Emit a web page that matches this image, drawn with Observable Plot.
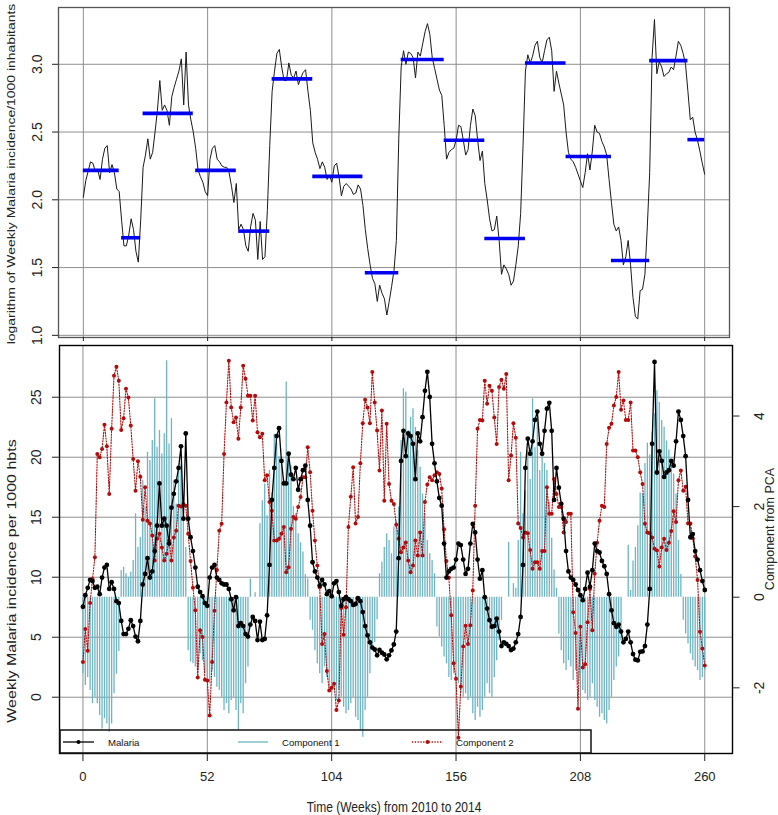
<!DOCTYPE html>
<html><head><meta charset="utf-8">
<script src="https://cdn.jsdelivr.net/npm/d3@7"></script>
<script src="https://cdn.jsdelivr.net/npm/@observablehq/plot@0.6"></script>
<style>
body{margin:0;background:#fff;}
#wrap{position:relative;width:778px;height:815px;overflow:hidden;font-family:"Liberation Sans",Arial,sans-serif;color:#222;background:#fff;}
.lab{position:absolute;white-space:nowrap;line-height:1;}
</style></head><body>
<div id="wrap">
  <div id="top" style="position:absolute;left:0;top:0;width:778px;height:342px"></div>
  <div id="bot" style="position:absolute;left:0;top:342px"></div>
  <div class="lab" style="left:10.5px;top:173.5px;font-size:10.9px;transform:translate(-50%,-50%) rotate(-90deg) scaleX(1.28)">logarithm of Weekly Malaria incidence/1000 inhabitants</div>
  <div class="lab" style="left:12px;top:581px;font-size:12.5px;transform:translate(-50%,-50%) rotate(-90deg) scaleX(1.28)">Weekly Malaria incidence per 1000 hbts</div>
  <div class="lab" style="left:770px;top:529px;font-size:12.5px;transform:translate(-50%,-50%) rotate(-90deg)">Component from PCA</div>
  <div class="lab" style="left:394px;top:807px;font-size:12px;transform:translate(-50%,-50%) scaleY(1.15)">Time (Weeks) from 2010 to 2014</div>
  <svg id="legend" width="778" height="815" style="position:absolute;left:0;top:0;pointer-events:none"></svg>
</div>
<script>
// ---------- data ----------
const weekTicks = [0, 52, 104, 156, 208, 260];
const logTicks = [1.0, 1.5, 2.0, 2.5, 3.0];
const incidenceTicks = [0, 5, 10, 15, 20, 25];
const componentTicks = [-2, 0, 2, 4];

// logarithm of weekly malaria incidence (weeks 0..260)
const logIncidence = [
  2.02, 2.14, 2.21, 2.28, 2.27, 2.21, 2.22, 2.15, 2.30, 2.38,
  2.40, 2.20, 2.26, 2.20, 2.08, 2.06, 1.85, 1.66, 1.66, 1.74,
  1.86, 1.78, 1.62, 1.54, 1.85, 2.24, 2.33, 2.45, 2.30, 2.35,
  2.50, 2.66, 2.88, 2.66, 2.70, 2.66, 2.55, 2.76, 2.83, 2.89,
  2.95, 3.04, 2.70, 3.09, 2.70, 2.59, 2.50, 2.38, 2.22, 2.17,
  2.13, 2.06, 2.03, 2.30, 2.38, 2.40, 2.30, 2.28, 2.25, 2.24,
  2.24, 2.20, 2.10, 1.98, 2.12, 1.78, 1.82, 1.78, 1.66, 1.62,
  1.80, 1.90, 1.85, 1.56, 1.84, 1.56, 1.58, 1.92, 2.40, 2.80,
  2.95, 3.08, 3.11, 2.98, 2.88, 2.88, 3.01, 2.92, 2.90, 2.95,
  2.85, 2.90, 2.94, 2.96, 2.80, 2.66, 2.42, 2.35, 2.30, 2.23,
  2.28, 2.24, 2.15, 2.18, 2.13, 2.25, 2.27, 2.17, 2.03, 2.10,
  2.12, 2.10, 2.08, 2.04, 2.05, 2.11, 2.08, 1.96, 1.78, 1.64,
  1.52, 1.42, 1.38, 1.25, 1.37, 1.31, 1.27, 1.15, 1.25, 1.36,
  1.48, 1.70, 2.45, 2.98, 3.10, 3.00, 3.09, 3.08, 3.05, 2.90,
  3.09, 3.06, 3.15, 3.24, 3.30, 3.22, 3.05, 2.97, 2.89, 2.81,
  2.77, 2.55, 2.30, 2.35, 2.37, 2.38, 2.44, 2.55, 2.54, 2.44,
  2.33, 2.37, 2.55, 2.67, 2.62, 2.44, 2.29, 2.36, 2.12, 2.00,
  1.86, 1.77, 1.78, 1.88, 1.70, 1.45, 1.52, 1.49, 1.45, 1.37,
  1.40, 1.52, 1.66, 1.90, 2.40, 2.95, 3.07, 3.01, 3.06, 3.14,
  3.17, 3.05, 3.01, 3.10, 3.18, 3.20, 3.10, 2.80, 2.95, 2.86,
  2.78, 2.70, 2.50, 2.35, 2.30, 2.28, 2.24, 2.19, 2.14, 2.09,
  2.20, 2.34, 2.22, 2.36, 2.55, 2.50, 2.49, 2.43, 2.39, 2.33,
  2.15, 1.98, 1.82, 1.77, 1.80, 1.70, 1.52, 1.58, 1.70, 1.52,
  1.28, 1.14, 1.12, 1.33, 1.34, 1.45, 1.80, 2.20, 3.05, 3.33,
  2.93, 3.02, 2.98, 2.91, 2.93, 2.94, 2.98, 2.96, 3.06, 3.17,
  3.14, 3.08, 3.00, 2.80, 2.59, 2.61, 2.50, 2.44, 2.36, 2.27,
  2.19
];

// PCA component 1 (bars)
const component1 = [
  -1.69, -1.95, -1.77, -2.06, -2.35, -2.21, -2.35, -2.61, -2.91, -2.68,
  -2.80, -2.98, -2.80, -2.13, -1.70, -1.20, 0.59, 0.66, 0.52, 0.44,
  0.55, 0.81, 1.84, 1.10, 1.32, 2.58, 1.99, 3.20, 3.02, 3.46,
  4.38, 3.31, 3.68, 3.16, 3.61, 5.22, 3.38, 3.94, 2.58, 2.06,
  2.80, 2.94, 1.77, 1.10, -1.18, -1.43, -1.47, -1.54, -1.62, -1.25,
  -1.40, -1.69, -1.84, -1.91, -1.62, -1.77, -1.99, -2.06, -2.21, -2.50,
  -2.35, -2.57, -2.28, -2.21, -2.50, -2.94, -2.35, -2.57, -1.91, -1.54,
  0.40, 0.00, 0.10, 0.00, 1.62, 2.13, 2.50, 1.80, 2.80, 2.30,
  3.60, 3.40, 3.10, 3.00, 2.58, 4.75, 3.20, 2.90, 2.00, 1.85,
  1.40, 1.20, 1.00, 0.50, 0.40, -0.51, -0.73, -1.18, -1.47, -1.69,
  -1.91, -1.54, -1.77, -2.06, -2.13, -1.91, -2.28, -2.06, -2.21, -2.43,
  -2.57, -2.50, -2.35, -2.21, -2.65, -2.72, -2.94, -3.09, -2.50, -2.21,
  -1.69, -1.18, -1.00, -0.50, 0.52, 0.77, 1.10, 1.40, 1.25, 0.96,
  1.55, 1.69, 1.99, 3.46, 4.60, 4.53, 3.68, 3.97, 4.16, 3.75,
  3.24, 2.87, 2.28, 1.84, 1.25, 0.96, 0.81, 0.52, -0.66, -0.88,
  -1.10, -1.32, -1.47, -1.77, -1.84, -1.69, -1.47, -1.91, -2.13, -2.21,
  -2.13, -2.28, -2.21, -2.57, -2.72, -2.43, -2.65, -2.50, -2.21, -1.91,
  -2.13, -2.21, -1.77, -1.40, -0.96, -0.51, 0.00, 0.00, 1.21, 0.00,
  0.30, 0.20, 1.25, 3.20, 1.84, 2.35, 3.24, 2.60, 4.38, 3.30,
  4.10, 2.80, 3.40, 2.95, 2.80, 2.10, 1.30, 0.60, 0.20, -0.81,
  -1.18, -1.47, -1.62, -1.40, -1.54, -1.84, -1.62, -1.91, -1.69, -2.06,
  -2.13, -2.28, -2.21, -1.91, -2.28, -2.43, -2.65, -2.57, -2.72, -2.80,
  -2.50, -2.21, -1.84, -1.54, -1.32, -0.96, 0.00, 0.00, 1.15, 0.15,
  0.80, 1.10, 1.58, 2.30, 2.28, 2.95, 3.40, 3.14, 3.65, 4.05,
  4.56, 4.30, 3.90, 3.75, 3.45, 3.25, 3.00, 2.72, 2.28, 1.25,
  0.50, -0.51, -0.81, -1.03, -1.25, -1.40, -1.54, -1.62, -1.84, -1.77,
  -1.62
];

// PCA component 2 (dotted line with points)
const component2 = [
  -1.43, -0.70, -1.18, -0.13, 0.40, 0.88, 3.16, 3.09, 3.27, 3.81,
  3.33, 2.28, 3.72, 4.89, 5.09, 4.78, 3.69, 3.95, 4.60, 4.41,
  3.79, 3.05, 2.35, 3.00, 2.66, 1.71, 2.43, 1.69, 1.63, 1.36,
  0.81, 1.29, 1.40, 1.10, 0.81, 0.96, 1.25, 0.81, 1.32, 1.47,
  2.02, 2.00, 2.06, 2.02, 1.40, 0.80, 0.21, -0.29, -1.77, -0.73,
  -0.88, -1.82, -1.84, -2.61, -1.43, -0.30, 0.60, 1.47, 1.62, 3.16,
  4.30, 5.22, 4.19, 3.86, 3.97, 3.50, 4.19, 5.11, 4.82, 4.45,
  4.45, 3.90, 4.45, 3.64, 3.53, 3.61, 2.58, 2.69, 2.10, 1.91,
  1.25, 1.25, 1.29, 1.40, 1.55, 0.55, 0.66, 1.51, 1.77, 1.73,
  1.99, 2.21, 2.65, 2.65, 3.31, 2.76, 1.91, 1.25, 0.70, 0.22,
  -1.03, -0.81, -1.63, -2.06, -2.00, -1.91, -2.49, -2.28, -0.24, -0.83,
  -0.22, 1.55, 2.22, 2.87, 1.63, 1.77, 2.96, 3.84, 4.36, 4.19,
  3.84, 4.97, 4.30, 3.68, 2.80, 4.12, 2.13, 3.83, 2.50, 2.13,
  2.06, 1.60, 1.29, 0.99, 1.10, 1.21, 0.81, 0.55, 0.70, 1.25,
  0.92, 1.43, 0.92, 2.10, 2.49, 2.65, 2.58, 2.69, 2.76, 2.72,
  2.40, 1.50, 0.80, 0.43, -0.40, -1.46, -1.80, -3.10, -1.97, -1.09,
  -0.63, -1.03, -0.62, 0.15, 2.02, 3.72, 3.91, 3.90, 4.78, 4.27,
  4.67, 4.56, 3.97, 3.38, 4.64, 4.80, 4.60, 4.93, 2.58, 3.13,
  3.84, 3.52, 1.63, 1.53, 1.32, 1.43, 1.41, 1.04, 0.63, 0.77,
  0.77, 0.63, 1.02, 1.02, 2.43, 1.84, 1.84, 2.61, 2.28, 1.99,
  1.99, 1.43, 1.66, 1.84, 1.84, -0.33, -0.79, -2.46, -0.65, -1.55,
  -1.48, -0.55, 0.18, -0.73, 0.52, 1.20, 1.69, 2.02, 1.99, 3.38,
  3.74, 3.83, 4.23, 4.42, 4.97, 4.14, 4.34, 3.91, 3.91, 4.30,
  3.24, 3.24, 3.09, 2.76, 2.50, 1.62, 1.43, 1.41, 1.32, 1.07,
  1.03, 0.68, 1.10, 1.29, 1.04, 1.20, 1.46, 1.90, 1.66, 2.58,
  2.80, 2.35, 2.44, 1.63, 1.63, 1.30, 0.90, 0.38, -0.76, -1.13,
  -1.51
];

// change-point segments on the log series (blue)
const segmentStart = [0, 16, 25, 47, 65, 79, 96, 118, 133, 151, 168, 185, 202, 221, 237, 253];
const segmentEnd   = [15, 24, 46, 64, 78, 96, 117, 132, 151, 168, 185, 202, 221, 237, 253, 260];
const segmentLevel = [2.217, 1.72, 2.638, 2.217, 1.769, 2.892, 2.173, 1.462, 3.035, 2.439, 1.715, 3.01, 2.32, 1.552, 3.027, 2.444];

// ---------- build ----------
const rows = logIncidence.map((lg, i) => ({w: i, lg, inc: Math.exp(lg), c1: component1[i], c2: component2[i]}));
const segs = segmentStart.map((s, i) => ({s, e: segmentEnd[i], v: segmentLevel[i]}));

// right (component) axis mapped onto left (incidence) scale
const toLeft = c => (100 + 45.3 * c) / 12;
const compTickPos = componentTicks.map(toLeft);

const font = '"Liberation Sans", Arial, sans-serif';
const gridStroke = "#8f8f8f";
const cyan = "#6db5c5";
const red = "#b30c0c";

const topPlot = Plot.plot({
  width: 778, height: 342,
  marginLeft: 58, marginRight: 49, marginTop: 7, marginBottom: 5,
  x: {domain: [-10.4, 270.4]},
  y: {domain: [0.984, 3.419]},
  style: {fontFamily: font, fontSize: "14px", color: "#222", background: "transparent", overflow: "visible"},
  marks: [
    Plot.gridX(weekTicks, {stroke: gridStroke, strokeOpacity: 1, strokeWidth: 1}),
    Plot.gridY(logTicks, {stroke: gridStroke, strokeOpacity: 1, strokeWidth: 1}),
    Plot.line(rows, {x: "w", y: "lg", stroke: "#1a1a1a", strokeWidth: 1}),
    Plot.ruleY(segs, {x1: "s", x2: "e", y: "v", stroke: "#0000ee", strokeWidth: 3.6}),
    Plot.frame({stroke: "#555", strokeWidth: 1.3}),
    Plot.axisX(weekTicks, {tickSize: 4, tickFormat: () => "", label: null}),
    Plot.axisY(logTicks, {tickSize: 6, tickPadding: 11, tickRotate: -90, lineAnchor: "bottom", textAnchor: "middle",
      tickFormat: d3.format(".1f"), label: null, fontSize: 14})
  ]
});
document.getElementById("top").append(topPlot);

const botPlot = Plot.plot({
  width: 778, height: 473,
  marginLeft: 59, marginRight: 46, marginTop: 3, marginBottom: 62,
  x: {domain: [-9.8, 271.6]},
  y: {domain: [-4.69, 29.31]},
  style: {fontFamily: font, fontSize: "14px", color: "#222", background: "transparent", overflow: "visible"},
  marks: [
    Plot.gridX(weekTicks, {stroke: gridStroke, strokeOpacity: 1, strokeWidth: 1}),
    Plot.gridY(incidenceTicks, {stroke: gridStroke, strokeOpacity: 1, strokeWidth: 1}),
    Plot.ruleX(rows, {x: "w", y1: () => toLeft(0), y2: d => toLeft(d.c1), stroke: cyan, strokeWidth: 1.3}),
    Plot.line(rows, {x: "w", y: d => toLeft(d.c2), stroke: red, strokeWidth: 1.1, strokeDasharray: "1.3,1.5"}),
    Plot.dot(rows, {x: "w", y: d => toLeft(d.c2), r: 2, fill: red}),
    Plot.line(rows, {x: "w", y: "inc", stroke: "#000", strokeWidth: 1.3}),
    Plot.dot(rows, {x: "w", y: "inc", r: 2.4, fill: "#000"}),
    Plot.frame({stroke: "#000", strokeWidth: 1.4}),
    Plot.axisX(weekTicks, {tickSize: 8, tickPadding: 10, label: null, fontSize: 13}),
    Plot.axisY(incidenceTicks, {anchor: "left", tickSize: 7, tickPadding: 12, tickRotate: -90, lineAnchor: "bottom",
      textAnchor: "middle", label: null, fontSize: 14}),
    Plot.axisY(compTickPos, {anchor: "right", tickSize: 6.5, tickPadding: 15, tickRotate: -90, lineAnchor: "top",
      textAnchor: "middle", label: null, fontSize: 14,
      tickFormat: d => String(componentTicks[compTickPos.indexOf(d)])})
  ]
});
document.getElementById("bot").append(botPlot);

// ---------- legend ----------
const lg = d3.select("#legend");
lg.append("rect").attr("x", 60).attr("y", 730).attr("width", 531).attr("height", 23)
  .attr("fill", "none").attr("stroke", "#111").attr("stroke-width", 1.5);
const ly = 742;
const items = [
  {label: "Malaria", x0: 63, x1: 94, tx: 108, color: "#000", dash: null, dot: true},
  {label: "Component 1", x0: 238, x1: 268, tx: 282, color: cyan, dash: null, dot: false},
  {label: "Component 2", x0: 412, x1: 443, tx: 456, color: red, dash: "1.3,1.5", dot: true}
];
for (const it of items) {
  lg.append("line").attr("x1", it.x0).attr("x2", it.x1).attr("y1", ly).attr("y2", ly)
    .attr("stroke", it.color).attr("stroke-width", 1.3).attr("stroke-dasharray", it.dash);
  if (it.dot) lg.append("circle").attr("cx", (it.x0 + it.x1) / 2).attr("cy", ly).attr("r", 2).attr("fill", it.color);
  lg.append("text").attr("x", it.tx).attr("y", ly + 4).attr("font-size", 9.6).attr("font-family", font)
    .attr("fill", "#111").text(it.label);
}
</script>
</body></html>
